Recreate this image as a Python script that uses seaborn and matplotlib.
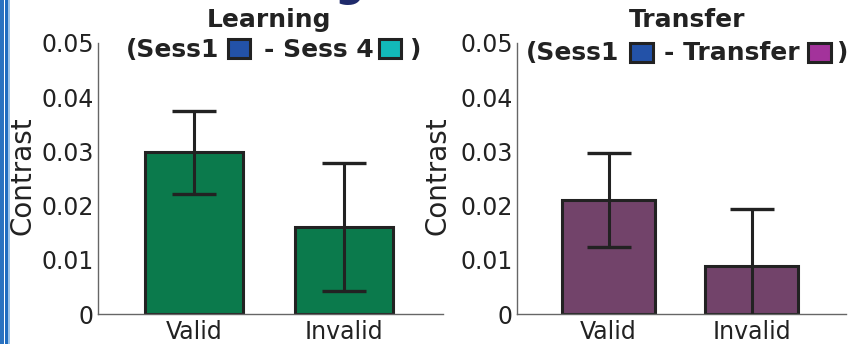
import matplotlib
matplotlib.use('Agg')
import matplotlib.pyplot as plt
import seaborn as sns
import pandas as pd
from matplotlib.patches import Rectangle

# data
conditions = ['Valid', 'Invalid']
learning_mean = [0.0298, 0.0161]
learning_err = [0.0076, 0.0118]
transfer_mean = [0.0210, 0.0089]
transfer_err = [0.0087, 0.0104]
yticks = [0, 0.01, 0.02, 0.03, 0.04, 0.05]
ytick_labels = ['0', '0.01', '0.02', '0.03', '0.04', '0.05']

W, H = 851, 344
sns.set_style('white')
plt.rcParams['font.family'] = ['DejaVu Sans']

fig = plt.figure(figsize=(W / 100, H / 100), dpi=100)


def px_axes(x0, y0, x1, y1):
    return fig.add_axes([x0 / W, 1 - y1 / H, (x1 - x0) / W, (y1 - y0) / H])


def draw_panel(ax, means, errs, color, label_x):
    df = pd.DataFrame({'cond': conditions, 'val': means})
    sns.barplot(data=df, x='cond', y='val', color=color, saturation=1, width=0.65,
                edgecolor='#222222', linewidth=2.2, ax=ax, zorder=2)
    ax.errorbar(range(len(means)), means, yerr=errs, fmt='none', ecolor='#222222',
                elinewidth=2.2, capsize=15.5, capthick=2.4, zorder=3)
    ax.set_xlim(-0.64, 1.66)
    ax.set_ylim(0, 0.05)
    ax.set_yticks(yticks)
    ax.set_yticklabels(ytick_labels)
    ax.set_xlabel('')
    ax.set_ylabel('Contrast', fontsize=20, color='#222222')
    ax.yaxis.set_label_coords(label_x, 0.51)
    for s in ['top', 'right']:
        ax.spines[s].set_visible(False)
    for s in ['left', 'bottom']:
        ax.spines[s].set_color('#666666')
        ax.spines[s].set_linewidth(1.0)
    ax.tick_params(axis='y', direction='in', length=5, color='#555555',
                   labelsize=17, labelcolor='#222222', pad=3)
    ax.tick_params(axis='x', length=0, labelsize=17, labelcolor='#222222', pad=4)


ax1 = px_axes(98, 43, 443, 314)
draw_panel(ax1, learning_mean, learning_err, '#0b7a4c', -0.178)
ax2 = px_axes(517, 43, 846, 314)
draw_panel(ax2, transfer_mean, transfer_err, '#72436a', -0.198)


def ftext(x, y, s, **kw):
    return fig.text(x / W, 1 - y / H, s, fontsize=18, fontweight='bold',
                    color='#222222', **kw)


def square(x0, y0, x1, y1, color):
    fig.add_artist(Rectangle((x0 / W, 1 - y1 / H), (x1 - x0) / W, (y1 - y0) / H,
                             transform=fig.transFigure, facecolor=color,
                             edgecolor='#222222', linewidth=2.2))


# panel titles with the session colour keys
ftext(269, 20, 'Learning', ha='center', va='center')
ftext(126, 50, '(Sess1', ha='left', va='center')
square(228, 39, 250, 58, '#2352a8')
ftext(264, 50, '- Sess 4', ha='left', va='center')
square(379, 39, 401, 58, '#12b9b9')
ftext(410, 50, ')', ha='left', va='center')

ftext(687, 20, 'Transfer', ha='center', va='center')
ftext(526, 53, '(Sess1', ha='left', va='center')
square(630, 43, 653, 62, '#2352a8')
ftext(664, 53, '- Transfer', ha='left', va='center')
square(808, 43, 831, 62, '#a3339b')
ftext(837, 53, ')', ha='left', va='center')

# poster frame bits at the edges
fig.add_artist(Rectangle((0, 0), 4 / W, 1, transform=fig.transFigure,
                         facecolor='#2a72c0', edgecolor='none'))
fig.add_artist(Rectangle((5.3 / W, 0), 3 / W, 1, transform=fig.transFigure,
                         facecolor='#1f6cc0', edgecolor='none'))
fig.add_artist(Rectangle((8.3 / W, 0), 1.7 / W, 1, transform=fig.transFigure,
                         facecolor='#9cc3e8', edgecolor='none'))
fig.text(349 / W, 1 - 5 / H, 'g', fontsize=30, fontweight='bold', color='#1f2a6b',
         ha='center', va='bottom')

fig.savefig('out.png', dpi=100)
